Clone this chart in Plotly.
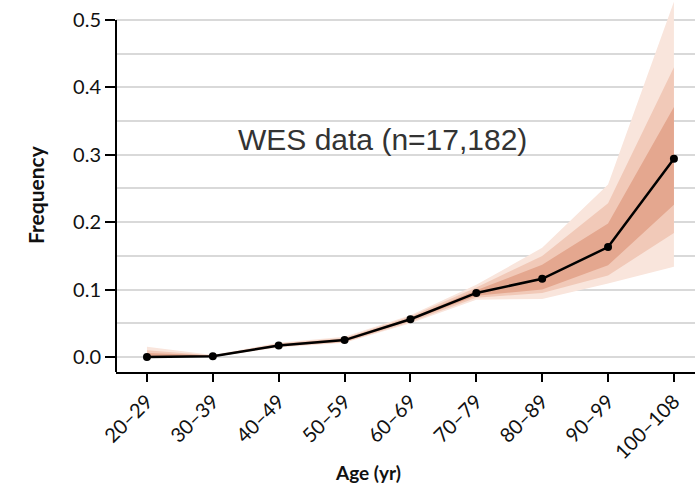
import plotly.graph_objects as go

categories = ["20–29", "30–39", "40–49", "50–59", "60–69", "70–79", "80–89", "90–99", "100–108"]
frequency = [0.000, 0.001, 0.017, 0.025, 0.056, 0.095, 0.116, 0.163, 0.294]

outer_lo = [0.000, 0.000, 0.014, 0.021, 0.050, 0.085, 0.086, 0.109, 0.134]
outer_hi = [0.015, 0.003, 0.021, 0.030, 0.062, 0.107, 0.162, 0.256, 0.527]
mid_lo = [0.000, 0.000, 0.015, 0.022, 0.052, 0.088, 0.095, 0.121, 0.184]
mid_hi = [0.010, 0.002, 0.020, 0.028, 0.060, 0.103, 0.150, 0.228, 0.430]
inner_lo = [0.000, 0.000, 0.016, 0.023, 0.054, 0.091, 0.100, 0.136, 0.226]
inner_hi = [0.006, 0.002, 0.019, 0.027, 0.058, 0.099, 0.137, 0.198, 0.371]

y_ticks = [0.0, 0.1, 0.2, 0.3, 0.4, 0.5]

xs = list(range(len(categories)))

fig = go.Figure()

def band(lo, hi, color):
    fig.add_trace(go.Scatter(
        x=xs + xs[::-1],
        y=hi + lo[::-1],
        fill="toself",
        fillcolor=color,
        line=dict(width=0),
        mode="lines",
        hoverinfo="skip",
        showlegend=False,
    ))

band(outer_lo, outer_hi, "#f9e5dc")
band(mid_lo, mid_hi, "#f1c9b8")
band(inner_lo, inner_hi, "#e4a78f")

fig.add_trace(go.Scatter(
    x=xs, y=frequency,
    mode="lines+markers",
    line=dict(color="black", width=2.5),
    marker=dict(color="black", size=8),
    showlegend=False,
))

fig.add_annotation(
    x=3.58, y=0.322, xref="x", yref="y",
    text="WES data (n=17,182)",
    showarrow=False,
    font=dict(family="Liberation Sans, Arial", size=30, color="#333333"),
)

# y axis line (stops at 0.5)
fig.add_shape(type="line", xref="paper", yref="y",
              x0=0, x1=0, y0=-0.0223, y1=0.5,
              line=dict(color="black", width=2))

fig.add_annotation(
    x=(368 - 116) / 579, y=-(472 - 372) / 372, xref="paper", yref="paper",
    xanchor="center", yanchor="middle",
    text="<b>Age (yr)</b>", showarrow=False,
    font=dict(family="Lato, Open Sans, sans-serif", size=19, color="#111111"),
)

fig.add_annotation(
    x=(35 - 116) / 579, y=(372 - 195) / 372, xref="paper", yref="paper",
    xanchor="center", yanchor="middle", textangle=-90,
    text="<b>Frequency</b>", showarrow=False,
    font=dict(family="Lato, Open Sans, sans-serif", size=21, color="#111111"),
)

fig.update_layout(
    width=695, height=487,
    margin=dict(l=116, r=0, t=0, b=115),
    paper_bgcolor="white",
    plot_bgcolor="white",
    font=dict(family="Lato, Open Sans, sans-serif", color="#111111"),
    xaxis=dict(
        tickmode="array",
        tickvals=xs,
        ticktext=categories,
        range=[-0.47, 8.32],
        showgrid=False,
        zeroline=False,
        showline=True,
        linecolor="black",
        linewidth=2,
        ticks="outside",
        ticklen=8,
        tickwidth=1.5,
        tickcolor="black",
        tickangle=-45,
        tickfont=dict(size=20, color="#111111"),
    ),
    yaxis=dict(
        range=[-0.0223, 0.5297],
        tickmode="array",
        tickvals=y_ticks,
        ticktext=[f"{v:.1f}" for v in y_ticks],
        showgrid=True,
        gridcolor="#d9d9d9",
        gridwidth=1.5,
        minor=dict(tickmode="array", tickvals=[0.05, 0.15, 0.25, 0.35, 0.45],
                   showgrid=True, gridcolor="#d9d9d9", gridwidth=1.5),
        zeroline=False,
        showline=False,
        ticks="outside",
        ticklen=10,
        tickwidth=1.5,
        tickcolor="black",
        tickfont=dict(size=20, color="#111111"),
    ),
)

fig.write_html("out.html")
